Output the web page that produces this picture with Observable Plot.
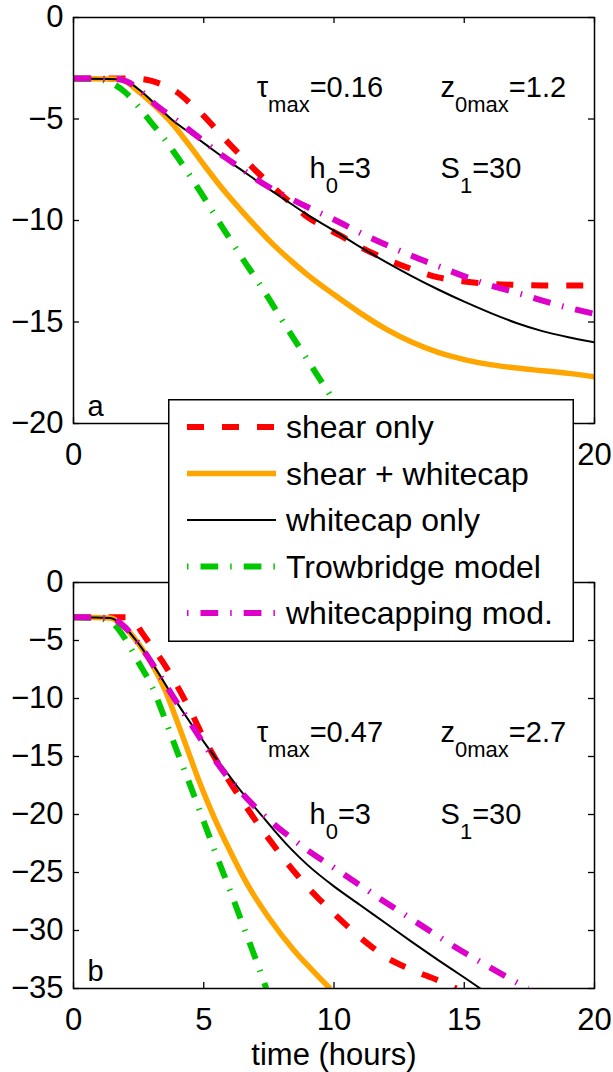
<!DOCTYPE html>
<html><head><meta charset="utf-8">
<script src="https://cdn.jsdelivr.net/npm/d3@7"></script>
<script src="https://cdn.jsdelivr.net/npm/@observablehq/plot@0.6"></script>
<style>
body{margin:0;background:#fff;}
#fig{position:relative;width:613px;height:1072px;font-family:"Liberation Sans",Arial,Helvetica,sans-serif;}
#top{position:absolute;left:0;top:0;}
#bot{position:absolute;left:0;top:565px;}
#legend{position:absolute;left:168px;top:399px;z-index:5;}
</style></head><body>
<div id="fig"><div id="top"></div><div id="bot"></div><div id="legend"></div></div>
<script>
// ---- data ----
const seriesNames = ["shear only", "shear + whitecap", "whitecap only", "Trowbridge model", "whitecapping mod."];
const xTicks = [0, 5, 10, 15, 20];
const xTickLabelsA = [0, 20];            // 5, 10, 15 of panel a are hidden behind the legend
const xTickLabelsB = [0, 5, 10, 15, 20];
const yTicksA = [0, -5, -10, -15, -20];
const yTicksB = [0, -5, -10, -15, -20, -25, -30, -35];
const xLabel = "time (hours)";
const panelLabels = ["a", "b"];
const textA = ["τ_{max}=0.16", "z_{0max}=1.2", "h_{0}=3", "S_{1}=30"];
const textB = ["τ_{max}=0.47", "z_{0max}=2.7", "h_{0}=3", "S_{1}=30"];

// panel a : [time (hours), depth]
const aShearOnly = [[0,-3],[2,-3],[2.5,-3.02],[3,-3.12],[3.4,-3.3],[4,-3.7],[4.5,-4.25],[5,-4.85],[5.5,-5.55],[6,-6.25],[6.5,-6.9],[7,-7.55],[7.5,-8.15],[8,-8.75],[8.5,-9.3],[9,-9.85],[9.6,-10.3],[10.25,-10.75],[11,-11.3],[12,-11.9],[13,-12.4],[14,-12.8],[15,-13.0],[16,-13.12],[17,-13.17],[18,-13.2],[20,-13.2]];
const aShearWhitecap = [[0,-3],[1.8,-3.04],[2.5,-3.65],[3.2,-4.45],[3.84,-5.3],[4.48,-6.35],[5.12,-7.45],[5.76,-8.5],[6.4,-9.45],[7.04,-10.35],[7.68,-11.2],[8.32,-11.95],[8.96,-12.65],[10,-13.65],[11,-14.55],[12,-15.35],[13,-16.0],[14,-16.5],[15,-16.85],[16,-17.1],[17,-17.27],[18,-17.4],[19,-17.53],[20,-17.7]];
const aWhitecapOnly = [[0,-3],[1.66,-3.04],[2.05,-3.15],[2.56,-3.6],[3.2,-4.35],[3.84,-5.1],[4.48,-5.7],[5.12,-6.3],[5.76,-6.9],[6.4,-7.47],[7.04,-8.05],[7.68,-8.6],[8.32,-9.15],[8.96,-9.7],[10,-10.5],[11,-11.3],[12,-12.05],[13,-12.75],[14,-13.4],[15,-14.0],[16,-14.55],[17,-15.05],[18,-15.45],[19,-15.75],[20,-16.0]];
const aTrowbridge = [[0,-3],[1,-3.05],[1.5,-3.25],[2,-3.7],[2.5,-4.4],[3,-5.2],[3.5,-6.0],[4,-6.9],[4.5,-7.85],[5,-8.85],[5.5,-9.9],[6,-10.9],[6.5,-11.9],[7,-12.85],[7.5,-13.85],[8,-14.9],[8.5,-15.9],[9,-16.9],[9.5,-17.9],[10,-18.9],[10.55,-20]];
const aWhitecapMod = [[0,-3],[1.7,-3.04],[2.05,-3.15],[2.56,-3.6],[3.2,-4.35],[3.84,-4.95],[4.5,-5.6],[5,-6.1],[5.5,-6.6],[6,-7.05],[6.5,-7.5],[7,-7.95],[7.5,-8.35],[8,-8.7],[9,-9.35],[10,-9.95],[11,-10.6],[12,-11.2],[13,-11.75],[14,-12.25],[15,-12.75],[16,-13.2],[17,-13.55],[18,-13.95],[19,-14.3],[20,-14.6]];

// panel b
const bShearOnly = [[0,-3],[2.05,-3.0],[2.35,-3.4],[2.62,-4.3],[3,-5.5],[3.5,-7.1],[4,-9.0],[4.5,-11.1],[5,-13.4],[5.5,-15.4],[6,-17.2],[6.5,-18.9],[7,-20.55],[7.5,-22.1],[8,-23.6],[8.5,-25.0],[9,-26.3],[9.5,-27.45],[10,-28.55],[10.5,-29.6],[11,-30.6],[11.5,-31.5],[12,-32.3],[13,-33.4],[14,-34.3],[14.5,-34.8],[14.7,-35]];
const bShearWhitecap = [[0,-3],[1.4,-3.05],[1.92,-3.74],[2.5,-5.3],[3,-7.0],[3.5,-9.2],[4,-12.1],[4.36,-14.3],[4.8,-17.0],[5.39,-20.2],[6,-23.1],[6.67,-26.0],[7.5,-28.9],[8.46,-31.7],[9.2,-33.5],[9.85,-35]];
const bWhitecapOnly = [[0,-3],[1.4,-3.05],[1.92,-3.74],[2.56,-5.46],[3.2,-7.6],[3.84,-9.9],[4.48,-12.07],[5.12,-14.1],[5.76,-16.0],[6.4,-17.9],[7.04,-19.6],[7.68,-21.3],[8.32,-22.9],[8.96,-24.3],[10,-26.2],[11,-27.8],[12,-29.4],[13,-31.0],[14,-32.55],[15,-34.05],[15.62,-35]];
const bTrowbridge = [[0,-3],[1,-3.1],[1.5,-3.5],[2,-4.9],[2.5,-6.9],[3,-8.9],[3.5,-11.7],[4,-14.7],[4.5,-17.6],[5,-20.6],[5.5,-23.6],[6,-26.5],[6.5,-29.5],[7,-32.5],[7.4,-35]];
const bWhitecapMod = [[0,-3],[1.4,-3.05],[1.92,-3.74],[2.56,-5.46],[3.2,-7.6],[3.84,-9.9],[4.48,-12.1],[5.12,-14.3],[5.76,-16.3],[6.4,-18.0],[7.04,-19.5],[7.68,-20.8],[8.32,-21.95],[9,-23.1],[10,-24.6],[11,-26.1],[12,-27.6],[13,-29.05],[14,-30.5],[15,-31.9],[16,-33.2],[17,-34.45],[17.45,-35]];

// ---- styles ----
const FONT = '"Liberation Sans", Arial, Helvetica, sans-serif';
const DASHDOT = "17.7,12,1.5,12";
const styles = [
  {stroke: "#ff0000", width: 6, dash: "17,18"},
  {stroke: "#ffa500", width: 5.5, dash: null},
  {stroke: "#000000", width: 2, dash: null},
  {stroke: "#00c800", width: 6, dash: DASHDOT},
  {stroke: "#dc00c8", width: 6, dash: DASHDOT}
];

function applySubs(svg) {
  d3.select(svg).selectAll("text").each(function () {
    const t = this.textContent;
    if (!t || !t.includes("_{")) return;
    const parts = t.split(/_\{([^}]*)\}/);
    const sel = d3.select(this);
    sel.text(null);
    let shifted = false;
    parts.forEach((p, i) => {
      if (!p) return;
      const ts = sel.append("tspan").text(p);
      if (i % 2 === 1) { ts.attr("font-size", 22).attr("dy", 15); shifted = true; }
      else if (shifted) { ts.attr("dy", -15); shifted = false; }
    });
  });
}

function panel({series, yDomain, yTicks, xLabels, texts, textY, label, height, marginBottom, showXLabel}) {
  const W = 613, mL = 73, mR = 19, mT = 17;
  const fw = W - mL - mR, fh = height - mT - marginBottom;
  const tl = 6;
  const marks = [];
  series.forEach((s, i) => {
    marks.push(Plot.line(s, {
      x: d => d[0], y: d => d[1],
      stroke: styles[i].stroke, strokeWidth: styles[i].width,
      strokeDasharray: styles[i].dash, strokeLinecap: "butt", strokeLinejoin: "round",
      curve: "monotone-x", clip: true
    }));
  });
  // annotations (anchor points in data space)
  const annoX = [7.03, 14.09, 9.06, 14.09];
  const annoData = texts.map((t, i) => ({t, x: annoX[i], y: textY[i < 2 ? 0 : 1]}));
  marks.push(Plot.text(annoData, {x: "x", y: "y", text: "t", textAnchor: "start", lineAnchor: "bottom", fontSize: 29, fill: "black"}));
  marks.push(Plot.text([label], {text: d => d, frameAnchor: "bottom-left", dx: 14, dy: -8, textAnchor: "start", lineAnchor: "bottom", fontSize: 29, fill: "black"}));
  // inward ticks on all four sides
  marks.push(Plot.tickY(yTicks, {y: d => d, insetRight: fw - tl, stroke: "black", strokeWidth: 1.3}));
  marks.push(Plot.tickY(yTicks, {y: d => d, insetLeft: fw - tl, stroke: "black", strokeWidth: 1.3}));
  marks.push(Plot.tickX(xTicks, {x: d => d, insetBottom: fh - tl, stroke: "black", strokeWidth: 1.3}));
  marks.push(Plot.tickX(xTicks, {x: d => d, insetTop: fh - tl, stroke: "black", strokeWidth: 1.3}));
  marks.push(Plot.axisY(yTicks, {tickSize: 0, tickPadding: 10, fontSize: 31, tickFormat: d3.format("d"), label: null}));
  marks.push(Plot.axisX(xLabels, {tickSize: 0, tickPadding: 19, fontSize: 31, tickFormat: d3.format("d"), label: null}));
  if (showXLabel) {
    marks.push(Plot.text([xLabel], {text: d => d, frameAnchor: "bottom", dy: 76, lineAnchor: "bottom", fontSize: 31, fill: "black"}));
  }
  marks.push(Plot.frame({stroke: "black", strokeWidth: 1.5}));
  const chart = Plot.plot({
    width: W, height,
    marginLeft: mL, marginRight: mR, marginTop: mT, marginBottom,
    x: {domain: [0, 20]},
    y: {domain: yDomain},
    style: {fontFamily: FONT, background: "white", overflow: "visible", color: "black"},
    marks
  });
  applySubs(chart);
  return chart;
}

document.getElementById("top").appendChild(panel({
  series: [aShearOnly, aShearWhitecap, aWhitecapOnly, aTrowbridge, aWhitecapMod],
  yDomain: [-20, 0], yTicks: yTicksA, xLabels: xTickLabelsA, texts: textA, textY: [-3.94, -7.93],
  label: panelLabels[0], height: 470, marginBottom: 47, showXLabel: false
}));
document.getElementById("bot").appendChild(panel({
  series: [bShearOnly, bShearWhitecap, bWhitecapOnly, bTrowbridge, bWhitecapMod],
  yDomain: [-35, 0], yTicks: yTicksB, xLabels: xTickLabelsB, texts: textB, textY: [-13.79, -20.78],
  label: panelLabels[1], height: 507, marginBottom: 84, showXLabel: true
}));

// ---- legend ----
const LW = 406, LH = 243;
const lg = d3.select("#legend").append("svg").attr("width", LW).attr("height", LH)
  .style("font-family", FONT).style("display", "block");
lg.append("rect").attr("x", 0.75).attr("y", 0.75).attr("width", LW - 1.5).attr("height", LH - 1.5)
  .attr("fill", "white").attr("stroke", "black").attr("stroke-width", 1.5);
seriesNames.forEach((name, i) => {
  const cy = 28 + i * 46.5;
  const ln = lg.append("line").attr("x1", 19).attr("x2", 108).attr("y1", cy).attr("y2", cy)
    .attr("stroke", styles[i].stroke).attr("stroke-width", styles[i].width).attr("stroke-linecap", "butt");
  if (styles[i].dash) {
    ln.attr("stroke-dasharray", styles[i].dash);
    if (styles[i].dash === DASHDOT) ln.attr("stroke-dashoffset", 29.7);
  }
  lg.append("text").attr("x", 118).attr("y", cy + 11).attr("font-size", 32).attr("fill", "black").text(name);
});
</script>
</body></html>
